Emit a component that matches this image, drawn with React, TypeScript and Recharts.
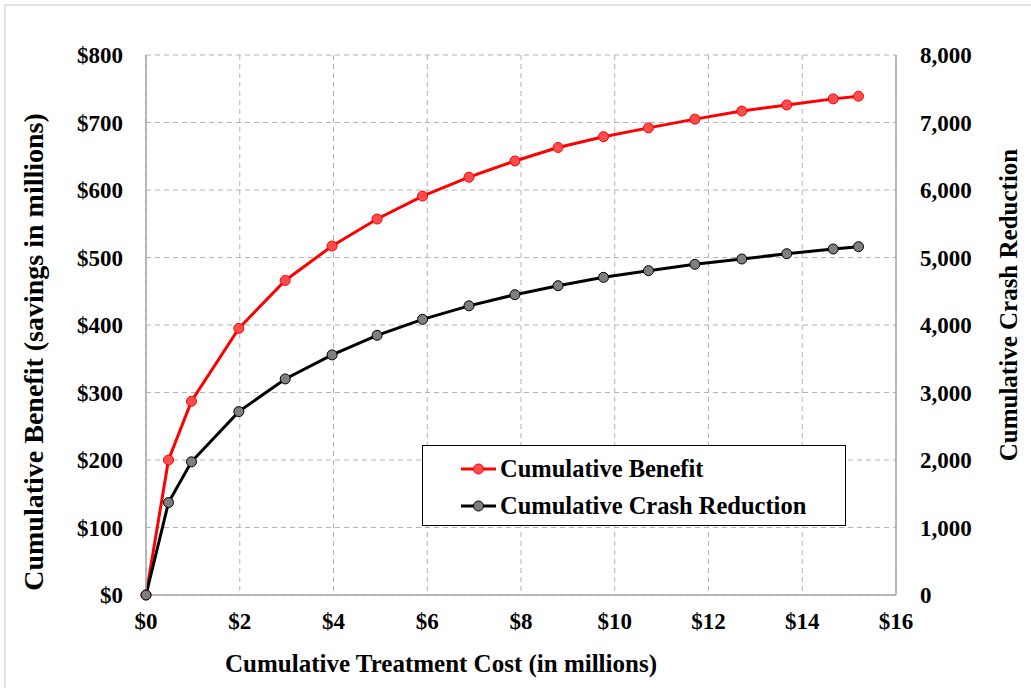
import React from "react";
import {
  LineChart,
  Line,
  XAxis,
  YAxis,
  CartesianGrid,
} from "recharts";

// treatment cost ($M)
const costs = [0, 0.48, 0.97, 1.98, 2.97, 3.97, 4.93, 5.9, 6.89, 7.87, 8.79, 9.76, 10.72, 11.71, 12.71, 13.67, 14.66, 15.2];
// cumulative benefit ($M)
const benefit = [0, 200, 287, 395, 466, 517, 557, 591, 619, 643, 663, 679, 692, 705, 717, 726, 735, 739];
// cumulative crash reduction
const crashes = [0, 1370, 1973, 2717, 3201, 3557, 3847, 4084, 4284, 4449, 4582, 4706, 4805, 4899, 4978, 5056, 5126, 5160];

const xTicks = [0, 2, 4, 6, 8, 10, 12, 14, 16];
const leftTicks = [0, 100, 200, 300, 400, 500, 600, 700, 800];
const rightTicks = [0, 1000, 2000, 3000, 4000, 5000, 6000, 7000, 8000];

const seriesNames = ["Cumulative Benefit", "Cumulative Crash Reduction"];

const data = costs.map((c, i) => ({ cost: c, benefit: benefit[i], crashes: crashes[i] }));

const FONT = "'Liberation Serif', 'Times New Roman', serif";
const tickStyle = { fontFamily: FONT, fontWeight: 700, fontSize: 23, fill: "#000" };

const LegendBox = () => (
  <div
    style={{
      position: "absolute",
      left: 422,
      top: 445,
      width: 424,
      height: 81,
      border: "1.5px solid #000",
      background: "#fff",
      fontFamily: FONT,
      fontWeight: 700,
      fontSize: 24.5,
      boxSizing: "border-box",
      paddingTop: 4,
    }}
  >
    {[
      { name: seriesNames[0], line: "#ff0000", fill: "#ff4d4d" },
      { name: seriesNames[1], line: "#000", fill: "#7f7f7f" },
    ].map((e) => (
      <div key={e.name} style={{ display: "flex", alignItems: "center", height: 37, paddingLeft: 37 }}>
        <svg width={38} height={14} style={{ marginRight: 2 }}>
          <line x1={1} y1={7} x2={36} y2={7} stroke={e.line} strokeWidth={3} />
          <circle cx={18.5} cy={7} r={5} fill={e.fill} stroke={e.line} strokeWidth={1} />
        </svg>
        <span>{e.name}</span>
      </div>
    ))}
  </div>
);

export default function App() {
  return (
    <div style={{ position: "absolute", left: 0, top: 0, width: 1031, height: 688, background: "#fff", overflow: "hidden" }}>
      <div
        style={{
          position: "absolute",
          left: 4,
          top: 4,
          width: 1040,
          height: 700,
          borderTop: "2px solid #e3e3e3",
          borderLeft: "2px solid #e3e3e3",
        }}
      />
      <LineChart
        width={1031}
        height={688}
        data={data}
        margin={{ top: 55, right: 35, bottom: 33, left: 76 }}
      >
        <CartesianGrid stroke="#b3b3b3" strokeDasharray="5 4" yAxisId="left" />
        <XAxis
          dataKey="cost"
          type="number"
          domain={[0, 16]}
          ticks={xTicks}
          tickFormatter={(v) => `$${v}`}
          tick={tickStyle}
          tickLine={false}
          axisLine={{ stroke: "#a6a6a6", strokeWidth: 1.5 }}
          tickMargin={12}
          height={60}
          label={{
            value: "Cumulative Treatment Cost (in millions)",
            position: "insideBottom",
            offset: -17,
            dx: -80,
            style: { fontFamily: FONT, fontWeight: 700, fontSize: 25, fill: "#000" },
          }}
        />
        <YAxis
          yAxisId="left"
          domain={[0, 800]}
          ticks={leftTicks}
          tickFormatter={(v) => `$${v}`}
          tick={tickStyle}
          tickLine={false}
          axisLine={{ stroke: "#a6a6a6", strokeWidth: 1.5 }}
          tickMargin={17}
          width={70}
          label={{
            value: "Cumulative Benefit (savings in millions)",
            angle: -90,
            position: "insideLeft",
            offset: -43,
            dy: 27,
            style: { fontFamily: FONT, fontWeight: 700, fontSize: 28, fill: "#000", textAnchor: "middle" },
          }}
        />
        <YAxis
          yAxisId="right"
          orientation="right"
          domain={[0, 8000]}
          ticks={rightTicks}
          tickFormatter={(v) => (v as number).toLocaleString("en-US")}
          tick={{ ...tickStyle, textAnchor: "start" }}
          tickLine={false}
          axisLine={{ stroke: "#a6a6a6", strokeWidth: 1.5 }}
          tickMargin={18}
          width={100}
          label={{
            value: "Cumulative Crash Reduction",
            angle: -90,
            position: "insideRight",
            offset: -12,
            dy: -20,
            style: { fontFamily: FONT, fontWeight: 700, fontSize: 25, fill: "#000", textAnchor: "middle" },
          }}
        />
        <Line
          yAxisId="left"
          dataKey="benefit"
          name={seriesNames[0]}
          type="linear"
          stroke="#ff0000"
          strokeWidth={3}
          dot={{ r: 5, fill: "#ff4d4d", stroke: "#ff0000", strokeWidth: 1 }}
          activeDot={false}
          isAnimationActive={false}
        />
        <Line
          yAxisId="right"
          dataKey="crashes"
          name={seriesNames[1]}
          type="linear"
          stroke="#000000"
          strokeWidth={3}
          dot={{ r: 5, fill: "#7f7f7f", stroke: "#000", strokeWidth: 1 }}
          activeDot={false}
          isAnimationActive={false}
        />
      </LineChart>
      <LegendBox />
    </div>
  );
}
